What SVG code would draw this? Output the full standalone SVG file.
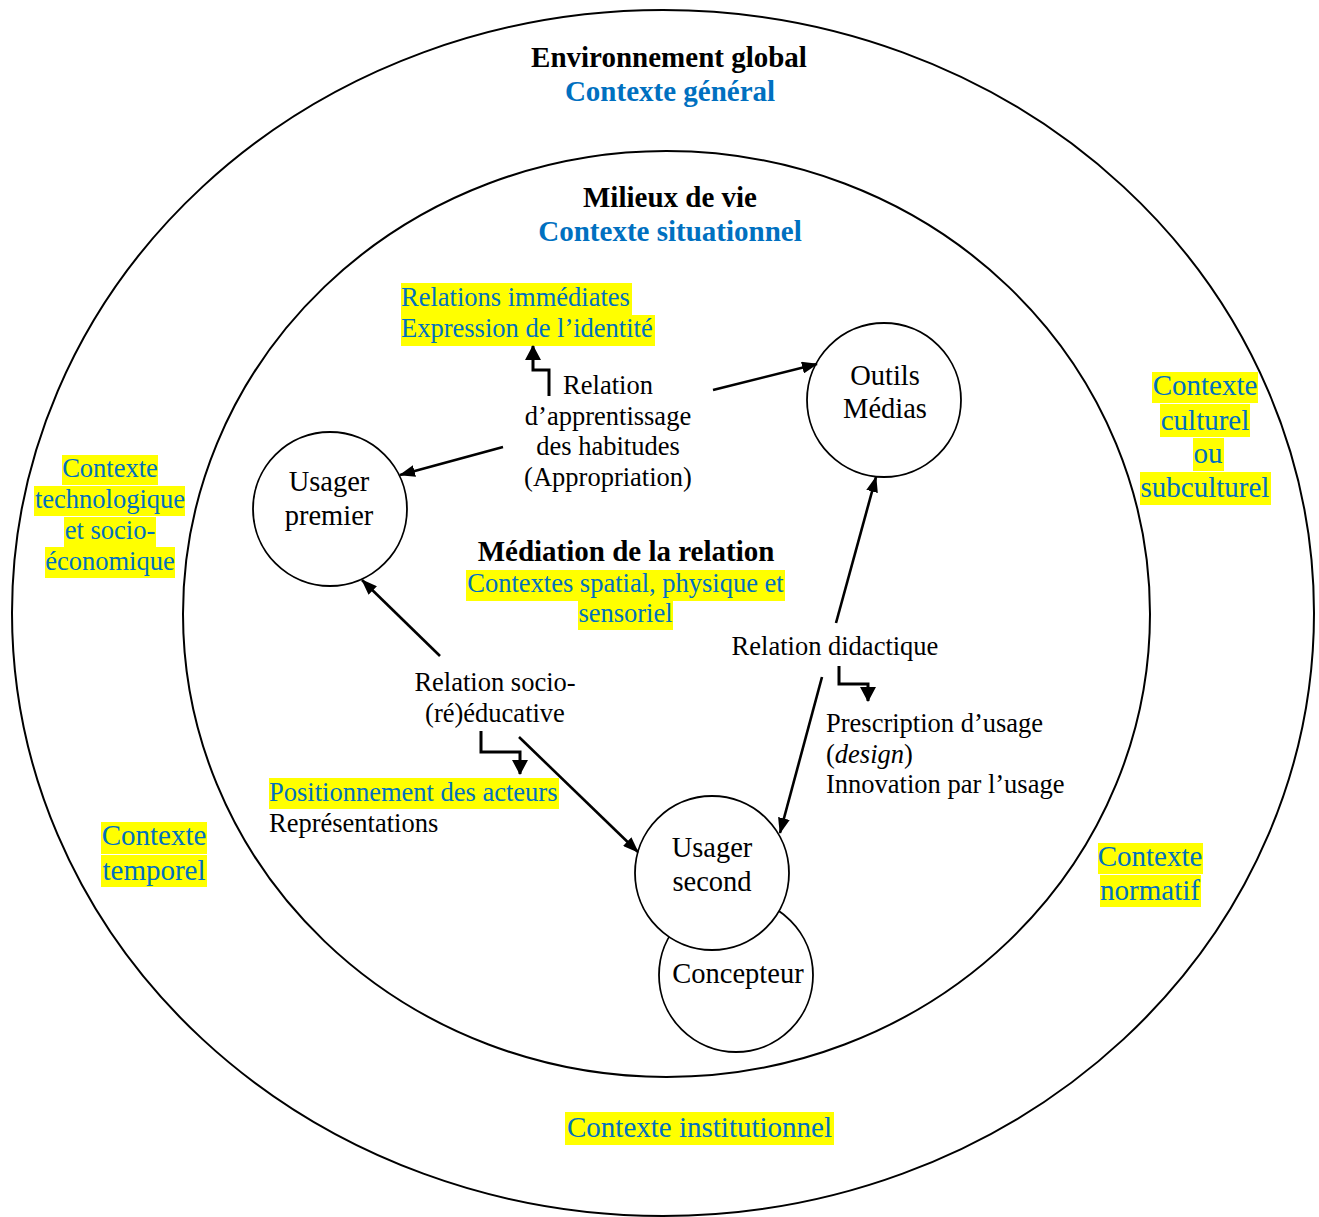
<svg xmlns="http://www.w3.org/2000/svg" width="1319" height="1217" viewBox="0 0 1319 1217">
<style>
text{font-family:"Liberation Serif","Times New Roman",serif;fill:#000}
.b{font-weight:bold;font-size:29px}
.blue{fill:#0070C0}
.s{font-size:26.5px}
.l{font-size:29px}
.n{font-size:28.5px}
.hl{fill:#FFFF00}
.ring{fill:none;stroke:#000;stroke-width:2}
.node{fill:#fff;stroke:#000;stroke-width:1.8}
.edge{fill:none;stroke:#000;stroke-width:2.6}
.elbow{fill:none;stroke:#000;stroke-width:3}
</style>
<defs>
<marker id="ah" markerUnits="userSpaceOnUse" markerWidth="16" markerHeight="12" refX="15" refY="6" orient="auto">
<path d="M0,0 L16,6 L0,12 z" fill="#000"/>
</marker>
<marker id="ah2" markerUnits="userSpaceOnUse" markerWidth="15" markerHeight="16" refX="14" refY="8" orient="auto">
<path d="M0,0 L15,8 L0,16 z" fill="#000"/>
</marker>
</defs>
<rect width="1319" height="1217" fill="#fff"/>

<g id="environnement">
<ellipse class="ring" cx="663" cy="613" rx="651" ry="603"/>
<text class="b" x="669" y="67" text-anchor="middle">Environnement global</text>
<text class="b blue" x="670" y="101" text-anchor="middle">Contexte général</text>
</g>

<g id="milieux">
<ellipse class="ring" cx="666.5" cy="614" rx="483.5" ry="463"/>
<text class="b" x="670" y="207" text-anchor="middle">Milieux de vie</text>
<text class="b blue" x="670" y="241" text-anchor="middle">Contexte situationnel</text>
</g>

<g id="ctx-techno">
<rect class="hl" x="62" y="455" width="96" height="30"/>
<rect class="hl" x="34" y="486" width="151" height="30"/>
<rect class="hl" x="64" y="517" width="92" height="30"/>
<rect class="hl" x="45" y="547" width="130" height="31"/>
<text class="s blue" text-anchor="middle"><tspan x="110" y="477">Contexte</tspan><tspan x="110" y="508">technologique</tspan><tspan x="110" y="539">et socio-</tspan><tspan x="110" y="570">économique</tspan></text>
</g>

<g id="ctx-temporel">
<rect class="hl" x="101" y="822" width="106" height="32"/>
<rect class="hl" x="101" y="855" width="106" height="32"/>
<text class="l blue" text-anchor="middle"><tspan x="154" y="845">Contexte</tspan><tspan x="154" y="880">temporel</tspan></text>
</g>

<g id="ctx-culturel">
<rect class="hl" x="1152" y="372" width="106" height="31"/>
<rect class="hl" x="1160" y="404" width="90" height="33"/>
<rect class="hl" x="1193" y="438" width="31" height="33"/>
<rect class="hl" x="1140" y="472" width="131" height="33"/>
<text class="l blue" text-anchor="middle"><tspan x="1205" y="395">Contexte</tspan><tspan x="1205" y="430">culturel</tspan><tspan x="1208" y="463">ou</tspan><tspan x="1205" y="497">subculturel</tspan></text>
</g>

<g id="ctx-normatif">
<rect class="hl" x="1098" y="843" width="105" height="31"/>
<rect class="hl" x="1100" y="875" width="101" height="32"/>
<text class="l blue" text-anchor="middle"><tspan x="1150" y="866">Contexte</tspan><tspan x="1150" y="900">normatif</tspan></text>
</g>

<g id="ctx-institutionnel">
<rect class="hl" x="565" y="1112" width="269" height="33"/>
<text class="l blue" x="699.5" y="1137" text-anchor="middle">Contexte institutionnel</text>
</g>

<g id="relations-immediates">
<rect class="hl" x="401" y="283" width="231" height="32"/>
<rect class="hl" x="401" y="315" width="254" height="31"/>
<text class="s blue"><tspan x="401" y="306">Relations immédiates</tspan><tspan x="401" y="337">Expression de l’identité</tspan></text>
</g>

<g id="relation-apprentissage">
<text class="s" text-anchor="middle"><tspan x="608" y="394">Relation</tspan><tspan x="608" y="425">d’apprentissage</tspan><tspan x="608" y="455">des habitudes</tspan><tspan x="608" y="486">(Appropriation)</tspan></text>
</g>

<g id="mediation">
<text class="b" x="626" y="561" text-anchor="middle">Médiation de la relation</text>
<rect class="hl" x="466" y="570" width="319" height="31"/>
<rect class="hl" x="578" y="601" width="95" height="29"/>
<text class="s blue" text-anchor="middle"><tspan x="625.5" y="592">Contextes spatial, physique et</tspan><tspan x="625.5" y="622">sensoriel</tspan></text>
</g>

<g id="relation-didactique">
<text class="s" x="835" y="655" text-anchor="middle">Relation didactique</text>
<text class="s"><tspan x="826" y="732">Prescription d’usage</tspan><tspan x="826" y="763">(<tspan font-style="italic">design</tspan>)</tspan><tspan x="826" y="793">Innovation par l’usage</tspan></text>
</g>

<g id="relation-socio">
<text class="s" text-anchor="middle"><tspan x="495" y="691">Relation socio-</tspan><tspan x="495" y="722">(ré)éducative</tspan></text>
<rect class="hl" x="269" y="778" width="290" height="31"/>
<text class="s"><tspan class="blue" x="269" y="801">Positionnement des acteurs</tspan><tspan x="269" y="832">Représentations</tspan></text>
</g>

<g id="usager-premier">
<circle class="node" cx="330" cy="509" r="77"/>
<text class="n" text-anchor="middle"><tspan x="329" y="491">Usager</tspan><tspan x="329" y="525">premier</tspan></text>
</g>

<g id="outils-medias">
<circle class="node" cx="884" cy="400" r="77"/>
<text class="n" text-anchor="middle"><tspan x="885" y="385">Outils</tspan><tspan x="885" y="418">Médias</tspan></text>
</g>

<g id="concepteur">
<circle class="node" cx="736" cy="975" r="77"/>
<text class="n" x="738" y="983" text-anchor="middle">Concepteur</text>
</g>

<g id="usager-second">
<circle class="node" cx="712" cy="873" r="77"/>
<text class="n" text-anchor="middle"><tspan x="712" y="857">Usager</tspan><tspan x="712" y="891">second</tspan></text>
</g>

<g id="connectors">
<line class="edge" x1="503" y1="447" x2="400" y2="475" marker-end="url(#ah)"/>
<line class="edge" x1="713" y1="390" x2="817" y2="364" marker-end="url(#ah)"/>
<line class="edge" x1="836" y1="623" x2="876" y2="477" marker-end="url(#ah)"/>
<line class="edge" x1="822" y1="677" x2="780" y2="833" marker-end="url(#ah)"/>
<line class="edge" x1="440" y1="656" x2="362" y2="580" marker-end="url(#ah)"/>
<line class="edge" x1="519" y1="737" x2="638" y2="852" marker-end="url(#ah)"/>
<path class="elbow" d="M549,396 V370 H533 V346" marker-end="url(#ah2)"/>
<path class="elbow" d="M481,731 V752 H520 V774" marker-end="url(#ah2)"/>
<path class="elbow" d="M839,666 V684 H868 V701" marker-end="url(#ah2)"/>
</g>
</svg>
